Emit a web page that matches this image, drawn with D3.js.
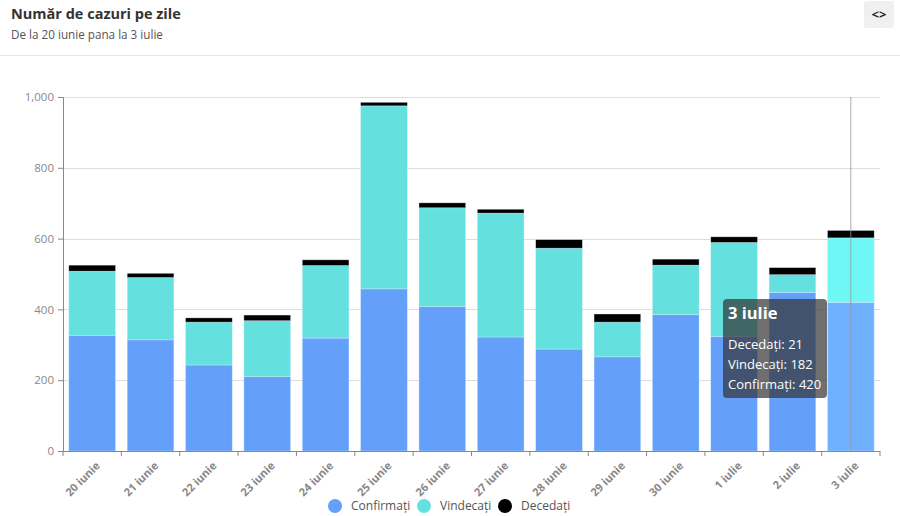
<!DOCTYPE html>
<html>
<head>
<meta charset="utf-8">
<script src="https://cdn.jsdelivr.net/npm/d3@7"></script>
<style>
  body { margin: 0; background: #fff; font-family: "Open Sans", sans-serif; }
  svg { display: block; }
</style>
</head>
<body>
<svg id="chart" width="900" height="516"></svg>
<script>
var days = ["20 iunie", "21 iunie", "22 iunie", "23 iunie", "24 iunie", "25 iunie", "26 iunie",
            "27 iunie", "28 iunie", "29 iunie", "30 iunie", "1 iulie", "2 iulie", "3 iulie"];
var confirmati = [327, 314, 243, 210, 319, 458, 408, 322, 288, 266, 385, 324, 448, 420];
var vindecati  = [181, 176, 121, 158, 205, 517, 279, 350, 285, 98, 140, 265, 50, 182];
var decedati   = [17, 12, 12, 16, 16, 10, 14, 11, 24, 23, 17, 16, 20, 21];
var yTicks = [0, 200, 400, 600, 800, 1000];

var series = ["Confirmați", "Vindecați", "Decedați"];
var colors = ["#64a0fa", "#64e1df", "#000000"];
var hoverColors = ["#6fb1ff", "#6ff7f5", "#000000"];
var hovered = days.length - 1;

var rows = days.map(function(d, i) {
  return {day: d, "Confirmați": confirmati[i], "Vindecați": vindecati[i], "Decedați": decedati[i]};
});

var svg = d3.select("#chart");

// header
svg.append("text").attr("x", 11).attr("y", 19)
  .attr("font-size", 14.5).attr("font-weight", "bold").attr("fill", "#333")
  .text("Număr de cazuri pe zile");
svg.append("text").attr("x", 11).attr("y", 39)
  .attr("font-size", 11.7).attr("fill", "#555")
  .text("De la 20 iunie pana la 3 iulie");
svg.append("line").attr("x1", 0).attr("x2", 900).attr("y1", 55.5).attr("y2", 55.5)
  .attr("stroke", "#e6e6e6");
svg.append("rect").attr("x", 864).attr("y", 1).attr("width", 30).attr("height", 27)
  .attr("rx", 3).attr("fill", "#f0f0f0");
svg.append("text").attr("x", 879).attr("y", 19).attr("text-anchor", "middle")
  .attr("font-size", 13).attr("font-weight", "bold").attr("fill", "#222")
  .text("<>");

var margin = {top: 97, left: 63, right: 20, bottom: 65};
var width = 900 - margin.left - margin.right;
var height = 516 - margin.top - margin.bottom;
var g = svg.append("g").attr("transform", "translate(" + margin.left + "," + margin.top + ")");

var x = d3.scaleBand().domain(days).range([0, width]).paddingInner(0.2).paddingOuter(0.1);
var y = d3.scaleLinear().domain([0, 1000]).range([height, 0]);
var step = x.step();

// grid
g.selectAll(".grid").data(yTicks.slice(1)).enter().append("line")
  .attr("x1", 0).attr("x2", width)
  .attr("y1", function(d) { return Math.round(y(d)) + 0.5; })
  .attr("y2", function(d) { return Math.round(y(d)) + 0.5; })
  .attr("stroke", "#ddd");

// bars
var stack = d3.stack().keys(series)(rows);
g.selectAll(".serie").data(stack).enter().append("g")
  .attr("class", "serie")
  .selectAll("rect").data(function(d, k) { return d.map(function(p) { p.k = k; return p; }); })
  .enter().append("rect")
    .attr("x", function(d) { return x(d.data.day); })
    .attr("y", function(d) { return y(d[1]); })
    .attr("height", function(d) { return y(d[0]) - y(d[1]); })
    .attr("width", x.bandwidth())
    .attr("fill", function(d, i) { return i === hovered ? hoverColors[d.k] : colors[d.k]; })
    .attr("stroke", "rgba(220,240,255,0.6)").attr("stroke-width", 0.6);

// axis pointer
var px = x(days[hovered]) + x.bandwidth() / 2;
g.append("line").attr("x1", px).attr("x2", px).attr("y1", 0).attr("y2", height)
  .attr("stroke", "#999").attr("stroke-width", 1).attr("opacity", 0.8);

// y axis
var yAxis = g.append("g")
  .call(d3.axisLeft(y).tickValues(yTicks).tickSize(5).tickPadding(4).tickFormat(d3.format(",")));
yAxis.select(".domain").attr("stroke", "#888");
yAxis.selectAll(".tick line").attr("stroke", "#888");
yAxis.selectAll("text").attr("fill", "#888").attr("font-size", 11.5).attr("font-family", "Open Sans");

// x axis
var xg = g.append("g").attr("transform", "translate(0," + height + ")");
xg.append("line").attr("x1", 0).attr("x2", width).attr("y1", 0.5).attr("y2", 0.5).attr("stroke", "#888");
xg.selectAll(".xt").data(d3.range(days.length + 1)).enter().append("line")
  .attr("x1", function(i) { return i * step; }).attr("x2", function(i) { return i * step; })
  .attr("y1", 0).attr("y2", 5).attr("stroke", "#888");
xg.selectAll(".xl").data(days).enter().append("text")
  .attr("transform", function(d) {
    return "translate(" + (x(d) + x.bandwidth() / 2 + 3) + ",10) rotate(-45)";
  })
  .attr("text-anchor", "end").attr("dy", "0.7em")
  .attr("font-size", 11).attr("font-weight", "bold").attr("fill", "#888")
  .text(function(d) { return d; });

// legend
var legendX = [335, 424, 505];
var legend = svg.selectAll(".legend").data(series).enter().append("g")
  .attr("transform", function(d, i) { return "translate(" + legendX[i] + ",506)"; });
legend.append("circle").attr("r", 7).attr("fill", function(d, i) { return colors[i]; });
legend.append("text").attr("x", 16).attr("dy", "0.35em")
  .attr("font-size", 12).attr("fill", "#555").text(function(d) { return d; });

// tooltip
var tip = svg.append("g").attr("transform", "translate(723,299)");
tip.append("rect").attr("width", 104).attr("height", 99).attr("rx", 4)
  .attr("fill", "rgba(50,50,50,0.7)");
tip.append("text").attr("x", 5).attr("y", 20).attr("font-size", 16.5).attr("font-weight", "bold")
  .attr("fill", "#fff").text(days[hovered]);
var tipLines = [["Decedați", decedati[hovered]], ["Vindecați", vindecati[hovered]], ["Confirmați", confirmati[hovered]]];
tip.selectAll(".tl").data(tipLines).enter().append("text")
  .attr("x", 5).attr("y", function(d, i) { return 50 + i * 20; })
  .attr("font-size", 13).attr("fill", "#fff")
  .text(function(d) { return d[0] + ": " + d[1]; });
</script>
</body>
</html>
